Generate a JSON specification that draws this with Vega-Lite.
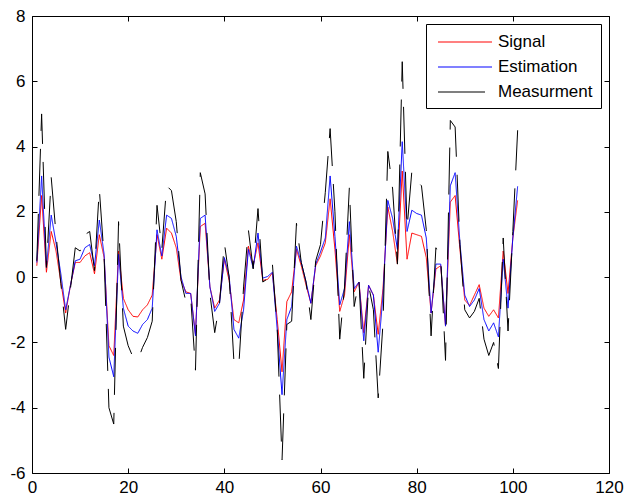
{
"$schema": "https://vega.github.io/schema/vega-lite/v6.json",
"width": 577, "height": 457,
"autosize": {"type": "none"},
"padding": {"left": 32, "top": 16, "right": 16, "bottom": 24},
"background": "white",
"config": {"view": {"stroke": "black", "strokeWidth": 1}, "font": "Liberation Sans"},
"datasets": {"d": [
{"x":1,"series":"Signal","y":0.35},{"x":2,"series":"Signal","y":2.5},{"x":3,"series":"Signal","y":0.15},{"x":4,"series":"Signal","y":1.4},{"x":5,"series":"Signal","y":0.8},{"x":6,"series":"Signal","y":-0.15},{"x":7,"series":"Signal","y":-1.1},{"x":8,"series":"Signal","y":-0.25},{"x":9,"series":"Signal","y":0.45},{"x":10,"series":"Signal","y":0.45},
{"x":11,"series":"Signal","y":0.65},{"x":12,"series":"Signal","y":0.75},{"x":13,"series":"Signal","y":0.1},{"x":14,"series":"Signal","y":1.3},{"x":15,"series":"Signal","y":0.6},{"x":16,"series":"Signal","y":-2.1},{"x":17,"series":"Signal","y":-2.4},{"x":18,"series":"Signal","y":0.8},{"x":19,"series":"Signal","y":-0.65},{"x":20,"series":"Signal","y":-1.0},
{"x":21,"series":"Signal","y":-1.2},{"x":22,"series":"Signal","y":-1.22},{"x":23,"series":"Signal","y":-1.0},{"x":24,"series":"Signal","y":-0.85},{"x":25,"series":"Signal","y":-0.55},{"x":26,"series":"Signal","y":1.3},{"x":27,"series":"Signal","y":0.55},{"x":28,"series":"Signal","y":1.5},{"x":29,"series":"Signal","y":1.35},{"x":30,"series":"Signal","y":0.9},
{"x":31,"series":"Signal","y":-0.1},{"x":32,"series":"Signal","y":-0.45},{"x":33,"series":"Signal","y":-0.5},{"x":34,"series":"Signal","y":-1.75},{"x":35,"series":"Signal","y":1.55},{"x":36,"series":"Signal","y":1.65},{"x":37,"series":"Signal","y":-0.3},{"x":38,"series":"Signal","y":-0.95},{"x":39,"series":"Signal","y":-0.7},{"x":40,"series":"Signal","y":0.55},
{"x":41,"series":"Signal","y":-0.1},{"x":42,"series":"Signal","y":-1.3},{"x":43,"series":"Signal","y":-1.4},{"x":44,"series":"Signal","y":-0.7},{"x":45,"series":"Signal","y":0.95},{"x":46,"series":"Signal","y":0.35},{"x":47,"series":"Signal","y":1.05},{"x":48,"series":"Signal","y":-0.1},{"x":49,"series":"Signal","y":-0.07},{"x":50,"series":"Signal","y":0.13},
{"x":51,"series":"Signal","y":-1.3},{"x":52,"series":"Signal","y":-2.9},{"x":53,"series":"Signal","y":-0.75},{"x":54,"series":"Signal","y":-0.45},{"x":55,"series":"Signal","y":0.85},{"x":56,"series":"Signal","y":0.35},{"x":57,"series":"Signal","y":-0.25},{"x":58,"series":"Signal","y":-0.8},{"x":59,"series":"Signal","y":0.35},{"x":60,"series":"Signal","y":0.65},
{"x":61,"series":"Signal","y":1.05},{"x":62,"series":"Signal","y":2.4},{"x":63,"series":"Signal","y":0.85},{"x":64,"series":"Signal","y":-1.05},{"x":65,"series":"Signal","y":-0.55},{"x":66,"series":"Signal","y":1.3},{"x":67,"series":"Signal","y":-0.45},{"x":68,"series":"Signal","y":-0.15},{"x":69,"series":"Signal","y":-1.7},{"x":70,"series":"Signal","y":-0.25},
{"x":71,"series":"Signal","y":-0.55},{"x":72,"series":"Signal","y":-1.75},{"x":73,"series":"Signal","y":-0.35},{"x":74,"series":"Signal","y":2.15},{"x":75,"series":"Signal","y":1.4},{"x":76,"series":"Signal","y":0.4},{"x":77,"series":"Signal","y":3.25},{"x":78,"series":"Signal","y":0.55},{"x":79,"series":"Signal","y":1.35},{"x":80,"series":"Signal","y":1.3},
{"x":81,"series":"Signal","y":1.25},{"x":82,"series":"Signal","y":0.6},{"x":83,"series":"Signal","y":-1.1},{"x":84,"series":"Signal","y":0.25},{"x":85,"series":"Signal","y":0.35},{"x":86,"series":"Signal","y":-1.5},{"x":87,"series":"Signal","y":2.3},{"x":88,"series":"Signal","y":2.5},{"x":89,"series":"Signal","y":0.85},{"x":90,"series":"Signal","y":-0.7},
{"x":91,"series":"Signal","y":-0.87},{"x":92,"series":"Signal","y":-0.55},{"x":93,"series":"Signal","y":-0.23},{"x":94,"series":"Signal","y":-0.95},{"x":95,"series":"Signal","y":-1.2},{"x":96,"series":"Signal","y":-1.0},{"x":97,"series":"Signal","y":-1.25},{"x":98,"series":"Signal","y":0.8},{"x":99,"series":"Signal","y":-0.5},{"x":100,"series":"Signal","y":1.2},{"x":101,"series":"Signal","y":2.35},
{"x":1,"series":"Estimation","y":0.45},{"x":2,"series":"Estimation","y":3.1},{"x":3,"series":"Estimation","y":0.3},{"x":4,"series":"Estimation","y":1.9},{"x":5,"series":"Estimation","y":1.05},{"x":6,"series":"Estimation","y":0.1},{"x":7,"series":"Estimation","y":-1.0},{"x":8,"series":"Estimation","y":-0.25},{"x":9,"series":"Estimation","y":0.5},{"x":10,"series":"Estimation","y":0.55},
{"x":11,"series":"Estimation","y":0.9},{"x":12,"series":"Estimation","y":1.0},{"x":13,"series":"Estimation","y":0.35},{"x":14,"series":"Estimation","y":1.75},{"x":15,"series":"Estimation","y":0.7},{"x":16,"series":"Estimation","y":-2.45},{"x":17,"series":"Estimation","y":-3.05},{"x":18,"series":"Estimation","y":0.7},{"x":19,"series":"Estimation","y":-0.95},{"x":20,"series":"Estimation","y":-1.5},
{"x":21,"series":"Estimation","y":-1.65},{"x":22,"series":"Estimation","y":-1.72},{"x":23,"series":"Estimation","y":-1.45},{"x":24,"series":"Estimation","y":-1.3},{"x":25,"series":"Estimation","y":-0.95},{"x":26,"series":"Estimation","y":1.45},{"x":27,"series":"Estimation","y":0.65},{"x":28,"series":"Estimation","y":1.9},{"x":29,"series":"Estimation","y":1.8},{"x":30,"series":"Estimation","y":1.25},
{"x":31,"series":"Estimation","y":0.0},{"x":32,"series":"Estimation","y":-0.5},{"x":33,"series":"Estimation","y":-0.5},{"x":34,"series":"Estimation","y":-1.8},{"x":35,"series":"Estimation","y":1.8},{"x":36,"series":"Estimation","y":1.9},{"x":37,"series":"Estimation","y":-0.3},{"x":38,"series":"Estimation","y":-1.05},{"x":39,"series":"Estimation","y":-0.8},{"x":40,"series":"Estimation","y":0.6},
{"x":41,"series":"Estimation","y":0.03},{"x":42,"series":"Estimation","y":-1.6},{"x":43,"series":"Estimation","y":-1.87},{"x":44,"series":"Estimation","y":-1.0},{"x":45,"series":"Estimation","y":0.85},{"x":46,"series":"Estimation","y":0.28},{"x":47,"series":"Estimation","y":1.35},{"x":48,"series":"Estimation","y":-0.03},{"x":49,"series":"Estimation","y":0.02},{"x":50,"series":"Estimation","y":0.15},
{"x":51,"series":"Estimation","y":-1.6},{"x":52,"series":"Estimation","y":-3.6},{"x":53,"series":"Estimation","y":-1.3},{"x":54,"series":"Estimation","y":-0.9},{"x":55,"series":"Estimation","y":0.95},{"x":56,"series":"Estimation","y":0.45},{"x":57,"series":"Estimation","y":-0.15},{"x":58,"series":"Estimation","y":-0.8},{"x":59,"series":"Estimation","y":0.4},{"x":60,"series":"Estimation","y":0.77},
{"x":61,"series":"Estimation","y":1.2},{"x":62,"series":"Estimation","y":3.1},{"x":63,"series":"Estimation","y":1.25},{"x":64,"series":"Estimation","y":-0.85},{"x":65,"series":"Estimation","y":-0.35},{"x":66,"series":"Estimation","y":1.7},{"x":67,"series":"Estimation","y":-0.35},{"x":68,"series":"Estimation","y":-0.15},{"x":69,"series":"Estimation","y":-1.95},{"x":70,"series":"Estimation","y":-0.25},
{"x":71,"series":"Estimation","y":-0.55},{"x":72,"series":"Estimation","y":-2.3},{"x":73,"series":"Estimation","y":-0.55},{"x":74,"series":"Estimation","y":2.35},{"x":75,"series":"Estimation","y":1.8},{"x":76,"series":"Estimation","y":0.85},{"x":77,"series":"Estimation","y":4.15},{"x":78,"series":"Estimation","y":1.4},{"x":79,"series":"Estimation","y":2.05},{"x":80,"series":"Estimation","y":1.95},
{"x":81,"series":"Estimation","y":1.9},{"x":82,"series":"Estimation","y":1.2},{"x":83,"series":"Estimation","y":-1.1},{"x":84,"series":"Estimation","y":0.4},{"x":85,"series":"Estimation","y":0.4},{"x":86,"series":"Estimation","y":-1.5},{"x":87,"series":"Estimation","y":2.8},{"x":88,"series":"Estimation","y":3.2},{"x":89,"series":"Estimation","y":1.05},{"x":90,"series":"Estimation","y":-0.55},
{"x":91,"series":"Estimation","y":-0.9},{"x":92,"series":"Estimation","y":-0.7},{"x":93,"series":"Estimation","y":-0.35},{"x":94,"series":"Estimation","y":-1.3},{"x":95,"series":"Estimation","y":-1.65},{"x":96,"series":"Estimation","y":-1.4},{"x":97,"series":"Estimation","y":-1.83},{"x":98,"series":"Estimation","y":0.55},{"x":99,"series":"Estimation","y":-0.95},{"x":100,"series":"Estimation","y":1.2},{"x":101,"series":"Estimation","y":2.78},
{"x":1,"series":"Measurment","y":0.5},{"x":2,"series":"Measurment","y":5.0},{"x":3,"series":"Measurment","y":0.3},{"x":4,"series":"Measurment","y":3.05},{"x":5,"series":"Measurment","y":1.3},{"x":6,"series":"Measurment","y":-0.2},{"x":7,"series":"Measurment","y":-1.6},{"x":8,"series":"Measurment","y":-0.35},{"x":9,"series":"Measurment","y":0.9},{"x":10,"series":"Measurment","y":0.8},
{"x":11,"series":"Measurment","y":1.3},{"x":12,"series":"Measurment","y":1.4},{"x":13,"series":"Measurment","y":0.2},{"x":14,"series":"Measurment","y":2.7},{"x":15,"series":"Measurment","y":0.6},{"x":16,"series":"Measurment","y":-4.0},{"x":17,"series":"Measurment","y":-4.5},{"x":18,"series":"Measurment","y":1.7},{"x":19,"series":"Measurment","y":-1.5},{"x":20,"series":"Measurment","y":-2.1},
{"x":21,"series":"Measurment","y":-2.45},{"x":22,"series":"Measurment","y":-2.55},{"x":23,"series":"Measurment","y":-2.15},{"x":24,"series":"Measurment","y":-1.85},{"x":25,"series":"Measurment","y":-1.35},{"x":26,"series":"Measurment","y":2.2},{"x":27,"series":"Measurment","y":0.85},{"x":28,"series":"Measurment","y":2.8},{"x":29,"series":"Measurment","y":2.65},{"x":30,"series":"Measurment","y":1.7},
{"x":31,"series":"Measurment","y":-0.1},{"x":32,"series":"Measurment","y":-0.75},{"x":33,"series":"Measurment","y":-0.6},{"x":34,"series":"Measurment","y":-2.85},{"x":35,"series":"Measurment","y":3.2},{"x":36,"series":"Measurment","y":2.55},{"x":37,"series":"Measurment","y":-0.5},{"x":38,"series":"Measurment","y":-1.7},{"x":39,"series":"Measurment","y":-0.8},{"x":40,"series":"Measurment","y":1.05},
{"x":41,"series":"Measurment","y":0.0},{"x":42,"series":"Measurment","y":-2.6},{"x":43,"series":"Measurment","y":-2.75},{"x":44,"series":"Measurment","y":-0.3},{"x":45,"series":"Measurment","y":1.45},{"x":46,"series":"Measurment","y":0.25},{"x":47,"series":"Measurment","y":2.1},{"x":48,"series":"Measurment","y":-0.15},{"x":49,"series":"Measurment","y":-0.05},{"x":50,"series":"Measurment","y":0.4},
{"x":51,"series":"Measurment","y":-1.6},{"x":52,"series":"Measurment","y":-5.6},{"x":53,"series":"Measurment","y":-1.45},{"x":54,"series":"Measurment","y":-1.35},{"x":55,"series":"Measurment","y":1.65},{"x":56,"series":"Measurment","y":0.45},{"x":57,"series":"Measurment","y":-0.15},{"x":58,"series":"Measurment","y":-1.3},{"x":59,"series":"Measurment","y":0.5},{"x":60,"series":"Measurment","y":1.0},
{"x":61,"series":"Measurment","y":2.6},{"x":62,"series":"Measurment","y":4.55},{"x":63,"series":"Measurment","y":2.0},{"x":64,"series":"Measurment","y":-1.9},{"x":65,"series":"Measurment","y":-0.3},{"x":66,"series":"Measurment","y":2.75},{"x":67,"series":"Measurment","y":-0.9},{"x":68,"series":"Measurment","y":-0.1},{"x":69,"series":"Measurment","y":-3.1},{"x":70,"series":"Measurment","y":-0.25},
{"x":71,"series":"Measurment","y":-1.0},{"x":72,"series":"Measurment","y":-3.7},{"x":73,"series":"Measurment","y":-1.4},{"x":74,"series":"Measurment","y":3.85},{"x":75,"series":"Measurment","y":2.7},{"x":76,"series":"Measurment","y":0.4},{"x":77,"series":"Measurment","y":6.6},{"x":78,"series":"Measurment","y":1.5},{"x":79,"series":"Measurment","y":3.25},{"x":80,"series":"Measurment","y":2.95},
{"x":81,"series":"Measurment","y":2.8},{"x":82,"series":"Measurment","y":1.45},{"x":83,"series":"Measurment","y":-1.8},{"x":84,"series":"Measurment","y":0.9},{"x":85,"series":"Measurment","y":0.6},{"x":86,"series":"Measurment","y":-2.55},{"x":87,"series":"Measurment","y":4.8},{"x":88,"series":"Measurment","y":4.6},{"x":89,"series":"Measurment","y":1.0},{"x":90,"series":"Measurment","y":-1.0},
{"x":91,"series":"Measurment","y":-1.25},{"x":92,"series":"Measurment","y":-1.05},{"x":93,"series":"Measurment","y":-0.65},{"x":94,"series":"Measurment","y":-1.9},{"x":95,"series":"Measurment","y":-2.4},{"x":96,"series":"Measurment","y":-2.0},{"x":97,"series":"Measurment","y":-2.8},{"x":98,"series":"Measurment","y":1.2},{"x":99,"series":"Measurment","y":-1.65},{"x":100,"series":"Measurment","y":1.4},{"x":101,"series":"Measurment","y":4.5}
]},
"data": {"name": "d"},
"layer": [
{
"mark": {"type": "line", "strokeWidth": 1, "clip": true},
"encoding": {
"x": {"field": "x", "type": "quantitative", "scale": {"domain": [0, 120], "nice": false, "zero": false},
"axis": {"orient": "bottom", "values": [0,20,40,60,80,100,120], "grid": false, "domain": false, "ticks": false, "labelColor": "black", "labelFontSize": 17, "labelFont": "Liberation Sans", "labelPadding": 6, "title": null, "labelFlush": false, "labelExpr": "'' + datum.value"}},
"y": {"field": "y", "type": "quantitative", "scale": {"domain": [-6, 8], "nice": false, "zero": false},
"axis": {"orient": "left", "values": [-6,-4,-2,0,2,4,6,8], "grid": false, "domain": false, "ticks": false, "labelColor": "black", "labelFontSize": 17, "labelFont": "Liberation Sans", "labelPadding": 7, "title": null, "labelFlush": false, "labelExpr": "'' + datum.value"}},
"color": {"field": "series", "type": "nominal", "scale": {"domain": ["Signal", "Estimation", "Measurment"], "range": ["#ff0000", "#0000ff", "#000000"]},
"legend": {"title": null, "orient": "top-right", "offset": 8, "padding": 8, "strokeColor": "black", "fillColor": "white", "symbolType": "M-0.667,0H5.333", "symbolSize": 324, "symbolStrokeWidth": 1.2, "symbolOpacity": 1, "labelFontSize": 17, "labelFont": "Liberation Sans", "labelColor": "black", "rowPadding": 7, "labelOffset": 44, "cornerRadius": 0,
"encode": {"symbols": {"update": {"strokeDash": {"signal": "datum.value === 'Measurment' ? [47, 18] : [1, 0]"}, "fill": {"value": "transparent"}, "opacity": {"value": 1}}}}}},
"strokeDash": {"field": "series", "type": "nominal", "scale": {"domain": ["Signal", "Estimation", "Measurment"], "range": [[1, 0], [1, 0], [47, 18]]}, "legend": null}
}
},
{
"mark": {"type": "point", "opacity": 0},
"encoding": {
"x": {"field": "x", "type": "quantitative", "axis": {"orient": "top", "offset": -5, "values": [0,20,40,60,80,100,120], "grid": false, "domain": false, "labels": false, "ticks": true, "tickSize": 5, "tickColor": "black", "title": null}},
"y": {"field": "y", "type": "quantitative", "axis": {"orient": "right", "offset": -5, "values": [-6,-4,-2,0,2,4,6,8], "grid": false, "domain": false, "labels": false, "ticks": true, "tickSize": 5, "tickColor": "black", "title": null}}
}
},
{
"mark": {"type": "point", "opacity": 0},
"encoding": {
"x": {"field": "x", "type": "quantitative", "axis": {"orient": "bottom", "offset": -5, "values": [0,20,40,60,80,100,120], "grid": false, "domain": false, "labels": false, "ticks": true, "tickSize": 5, "tickColor": "black", "title": null}},
"y": {"field": "y", "type": "quantitative", "axis": {"orient": "left", "offset": -5, "values": [-6,-4,-2,0,2,4,6,8], "grid": false, "domain": false, "labels": false, "ticks": true, "tickSize": 5, "tickColor": "black", "title": null}}
}
}
],
"resolve": {"axis": {"x": "independent", "y": "independent"}}
}
